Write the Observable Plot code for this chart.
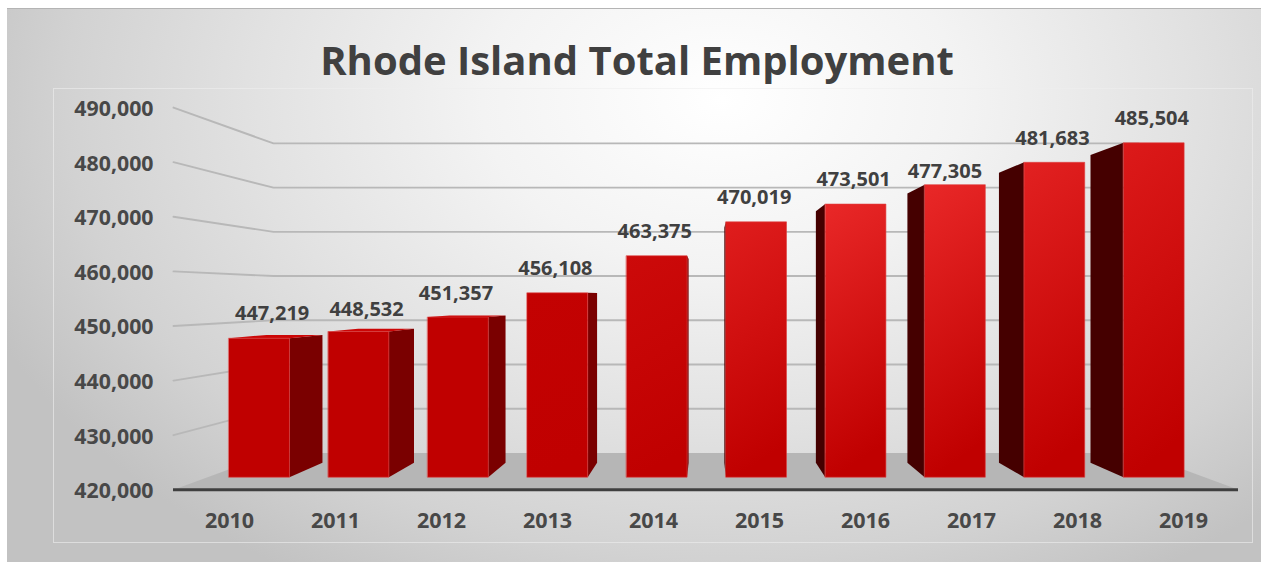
<!DOCTYPE html>
<html>
<head>
<meta charset="utf-8">
<script src="https://cdn.jsdelivr.net/npm/d3@7"></script>
<script src="https://cdn.jsdelivr.net/npm/@observablehq/plot@0.6"></script>
<style>
html,body{margin:0;padding:0;background:#fff;width:1261px;height:562px;overflow:hidden}
#bg{position:absolute;left:7px;top:8px;width:1254px;height:554px;border-top:1px solid #b4b4b4;box-sizing:border-box;
background:radial-gradient(ellipse 800px 560px at 715px 90px,#ffffff 0%,#f3f3f3 30%,#e2e2e2 58%,#d2d2d2 82%,#c2c2c2 100%)}
#inner{position:absolute;left:53px;top:88px;width:1200px;height:455px;border:1px solid rgba(238,238,238,.6);box-sizing:border-box}
#chart{position:absolute;left:0;top:0}
#chart svg{display:block;background:transparent}
</style>
</head>
<body>
<div id="bg"></div><div id="inner"></div><div id="chart"></div>
<script>
const chartTitle = "Rhode Island Total Employment";
const years = ["2010","2011","2012","2013","2014","2015","2016","2017","2018","2019"];
const employment = [447219,448532,451357,456108,463375,470019,473501,477305,481683,485504];
const yTicks = [420000,430000,440000,450000,460000,470000,480000,490000];
const topColors = ["#c00000","#c00000","#c00000","#c30202","#cc0a0a","#df1d1d","#e92828","#e92828","#e22121","#dc1a1a"];
const sideColors = ["#7a0000","#7a0000","#7a0000","#7a0000","#7a0000","#450000","#450000","#450000","#450000","#450000"];

// one-point perspective of the 3D column chart, in scale units
const base = 420000, eyeValue = 455513, eyeColumn = 4.5;
const wallDepth = 0.81, barFront = 0.935, barBack = 0.861, halfBar = 0.305;
const columnLeft = -0.528, columnRight = 9.519;
const px = (c, s) => eyeColumn + (c - eyeColumn) * s * 1.003;
const py = (v, s) => eyeValue + (v - eyeValue) * s;
const pt = (c, v, s) => ({x: px(c, s), y: py(v, s)});
const poly = (pts, fill, extra = {}) =>
  Plot.line(pts, {x: "x", y: "y", fill, stroke: "none", curve: "linear-closed", ...extra});

const wallLines = yTicks.filter(t => t > base).map(t =>
  Plot.line([
    {x: columnLeft, y: t},
    pt(columnLeft, t, wallDepth),
    pt(columnRight, t, wallDepth)
  ], {x: "x", y: "y", stroke: "#b8b8b8", strokeWidth: 1.9}));

const floor = poly([
  {x: columnLeft, y: base}, {x: columnRight, y: base},
  pt(columnRight, base, wallDepth), pt(columnLeft, base, wallDepth)
], "#b6b6b6");

const bars = years.flatMap((yr, i) => {
  const v = employment[i], l = i - halfBar, r = i + halfBar, out = [];
  // the side turned towards the viewer's centre line
  const edge = i < eyeColumn ? r : l;
  out.push(poly([pt(edge, base, barFront), pt(edge, v, barFront), pt(edge, v, barBack), pt(edge, base, barBack)],
    sideColors[i]));
  if (v < eyeValue) {
    out.push(poly([pt(l, v, barFront), pt(r, v, barFront), pt(r, v, barBack), pt(l, v, barBack)], "#cc0606"));
  }
  out.push(poly([pt(l, base, barFront), pt(r, base, barFront), pt(r, v, barFront), pt(l, v, barFront)],
    `url(#bar${i})`, {stroke: "#dd4040", strokeWidth: 0.6}));
  return out;
});

const labelRows = years.map((yr, i) => ({...pt(i, employment[i], barFront), label: d3.format(",")(employment[i]), yr}));
const labelFont = {fontFamily: "Open Sans", fontWeight: 700, fontSize: 20, fill: "#404040", stroke: "none"};
const labels = (keep, dx, dy) => Plot.text(labelRows.filter(d => keep(d.yr)),
  {x: "x", y: "y", text: "label", dx, dy, ...labelFont});

const plot = Plot.plot({
  width: 1261, height: 562,
  marginLeft: 173, marginRight: 23, marginTop: 107.1, marginBottom: 72.7,
  style: {background: "transparent", overflow: "visible"},
  x: {domain: [columnLeft, columnRight], label: null},
  y: {domain: [base, 490000], label: null},
  marks: [
    ...wallLines,
    floor,
    ...bars,
    labels(y => !["2010","2011","2017"].includes(y), -2, -24),
    labels(y => y === "2010", 13, -25),
    labels(y => y === "2011", 8, -22),
    labels(y => y === "2017", -10, -13),
    Plot.ruleY([base], {x1: columnLeft, x2: columnRight, stroke: "#3f3f3f", strokeWidth: 3}),
    Plot.axisY(yTicks, {tickSize: 0, tickPadding: 20, tickFormat: d3.format(","), dy: 1.5,
      fontFamily: "Open Sans", fontWeight: 700, fontSize: 21.3, fill: "#484848", label: null}),
    Plot.axisX(years.map((_, i) => i), {tickSize: 0, tickPadding: 23, tickFormat: i => years[i],
      fontFamily: "Open Sans", fontWeight: 700, fontSize: 21.5, fill: "#484848", label: null}),
    Plot.text([chartTitle], {frameAnchor: "top", dx: -69, dy: -61, text: d => d,
      fontFamily: "Open Sans", fontWeight: 700, fontSize: 40, fill: "#404040"})
  ]
});

const defs = d3.select(plot).append("defs");
topColors.forEach((c, i) => {
  const g = defs.append("linearGradient").attr("id", `bar${i}`)
    .attr("x1", 0).attr("y1", 0).attr("x2", 0.15).attr("y2", 1);
  g.append("stop").attr("offset", 0).attr("stop-color", c);
  g.append("stop").attr("offset", 1).attr("stop-color", "#c00000");
});
document.getElementById("chart").append(plot);
</script>
</body>
</html>
